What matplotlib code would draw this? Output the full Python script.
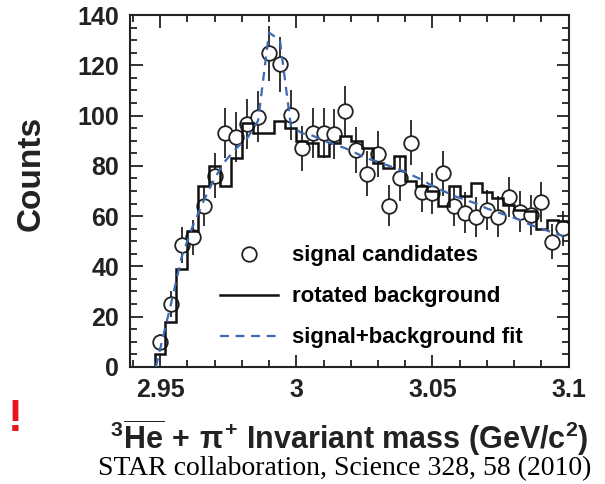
import matplotlib
matplotlib.use("Agg")
import matplotlib.pyplot as plt
import numpy as np
from matplotlib.ticker import MultipleLocator, FuncFormatter
from matplotlib.lines import Line2D

plt.rcParams['font.family'] = ['Liberation Sans', 'DejaVu Sans']
plt.rcParams['font.weight'] = 'bold'
plt.rcParams['mathtext.fontset'] = 'custom'
plt.rcParams['mathtext.rm'] = 'Liberation Sans:bold'
plt.rcParams['mathtext.it'] = 'Liberation Sans:bold'
plt.rcParams['mathtext.bf'] = 'Liberation Sans:bold'

# bin centres (GeV/c^2), 4 MeV bins
mass = [2.950, 2.954, 2.958, 2.962, 2.966, 2.970, 2.974, 2.978, 2.982, 2.986,
        2.990, 2.994, 2.998, 3.002, 3.006, 3.010, 3.014, 3.018, 3.022, 3.026,
        3.030, 3.034, 3.038, 3.042, 3.046, 3.050, 3.054, 3.058, 3.062, 3.066,
        3.070, 3.074, 3.078, 3.082, 3.086, 3.090, 3.094, 3.098]

# signal candidates
counts = [10, 25, 48.5, 51.6, 64, 76, 93, 91.6, 96.5, 99.6,
          124.8, 120.4, 100.2, 87, 93, 93, 92.6, 101.8, 86.3, 76.8,
          84.7, 64.2, 75, 89.2, 69.7, 69, 77, 64, 61.4, 59.5,
          62.5, 59.8, 67.7, 61.8, 60.5, 65.7, 49.8, 55.2]
errors = [3, 5, 7, 7, 8, 9, 10, 10, 10, 10,
          11, 11, 10, 9, 10, 10, 10, 10, 9, 9,
          9, 8, 9, 9, 8, 8, 9, 8, 8, 8,
          8, 8, 8, 8, 8, 8, 7, 7]

# rotated background histogram
background = [5, 18, 39, 54, 72, 80, 72, 83, 97, 93,
              93, 98, 95, 90, 89, 84, 89, 92, 90, 87,
              81, 79, 84, 74, 72, 70, 64, 72, 68, 73,
              69.5, 67, 64.5, 62.5, 62, 55, 58.5, 58]

# signal + background fit
fit_mass = [2.9485] + mass
fit_counts = [0, 7, 25, 44, 56, 66, 75, 82, 87, 91, 98,
              133, 130, 96, 93, 92, 90, 88.5, 87, 85, 83,
              81.5, 80, 78.5, 76.5, 74.5, 72, 70, 68, 66.5, 65,
              63, 61.5, 60, 58.5, 56.5, 55, 53.5, 52]

bin_width = 0.004
edges = np.append(np.array(mass) - bin_width / 2, mass[-1] + bin_width / 2)

fig = plt.figure(figsize=(6.05, 4.84), dpi=100)
ax = fig.add_axes([0.215, 0.242, 0.725, 0.727])

ax.errorbar(mass, counts, yerr=errors, fmt='none', ecolor='#333333',
            elinewidth=1.4, capsize=0, zorder=1)
ax.plot(mass, counts, 'o', ms=10.5, mfc='white', mec='#222222', mew=1.3, zorder=2)
ax.stairs(background, edges, baseline=0, color='#111111', lw=1.8, zorder=3)
ax.plot(fit_mass, fit_counts, '--', color='#3f68b2', lw=1.6,
        dashes=(4, 3), zorder=4)

ax.set_xlim(2.939, 3.1)
ax.set_ylim(0, 140)
ax.xaxis.set_major_locator(MultipleLocator(0.05))
ax.xaxis.set_minor_locator(MultipleLocator(0.01))
ax.yaxis.set_major_locator(MultipleLocator(20))
ax.yaxis.set_minor_locator(MultipleLocator(5))
ax.xaxis.set_major_formatter(FuncFormatter(lambda v, p: '%g' % round(v, 3)))
ax.tick_params(which='both', direction='in', top=True, right=True, width=1.3,
               labelsize=18, colors='#222222')
ax.tick_params(which='major', length=9, pad=8)
ax.tick_params(which='minor', length=5)
for sp in ax.spines.values():
    sp.set_linewidth(1.5)
    sp.set_color('#222222')

ax.set_ylabel('Counts', fontsize=24, fontweight='bold', color='#222222')
ax.yaxis.set_label_coords(-0.19, 0.55)
ax.set_xlabel(r'$^{3}\overline{\mathrm{He}}\,+\,\pi^{+}$ Invariant mass (GeV/c$^{2}$)',
              fontsize=22, fontweight='bold', labelpad=11, color='#222222')

handles = [
    Line2D([], [], marker='o', ls='none', ms=10.5, mfc='white', mec='#222222', mew=1.3),
    Line2D([], [], color='#111111', lw=1.8),
    Line2D([], [], color='#3f68b2', lw=1.6, ls='--', dashes=(4, 3)),
]
labels = ['signal candidates', 'rotated background', 'signal+background fit']
ax.legend(handles, labels, loc='upper left', bbox_to_anchor=(0.205, 0.345),
          frameon=False, handlelength=2.6, handletextpad=0.63,
          labelspacing=0.9, borderpad=0, borderaxespad=0,
          prop={'weight': 'bold', 'size': 16})

fig.text(0.012, 0.133, '!', color='#e8141b', fontsize=32, fontweight='bold',
         ha='left', va='center')
fig.text(0.977, 0.018, 'STAR collaboration, Science 328, 58 (2010)',
         family=['Liberation Serif', 'DejaVu Serif'], fontweight='normal',
         fontsize=20, ha='right', va='baseline', color='black')

fig.savefig('out.png', dpi=100)
